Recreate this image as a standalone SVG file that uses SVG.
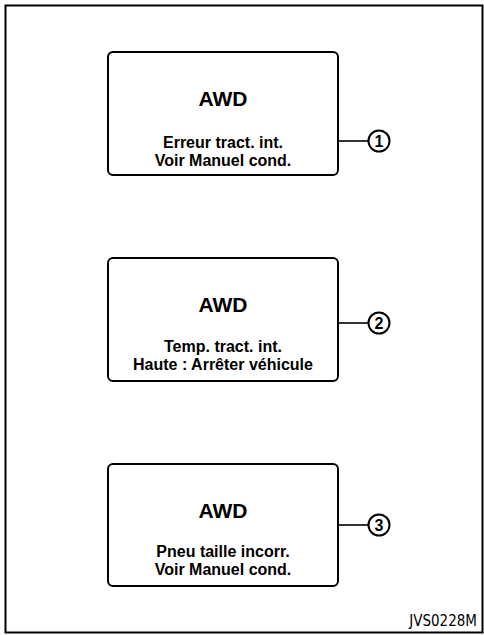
<svg xmlns="http://www.w3.org/2000/svg" width="484" height="635" viewBox="0 0 484 635">
<style>
.box{fill:#fff;stroke:#000;stroke-width:2}
.t{font-family:"Liberation Sans",Arial,sans-serif;text-anchor:middle;fill:#000}
.h{font-size:21px;font-weight:bold}
.m{font-size:16px;font-weight:bold}
.c{fill:#fff;stroke:#000;stroke-width:2}
.n{font-family:"Liberation Sans",Arial,sans-serif;font-size:16px;font-weight:bold;text-anchor:middle}
.ln{stroke:#000;stroke-width:1.6;fill:none}
</style>
<rect width="484" height="635" fill="#fff"/>
<rect x="5.5" y="5.5" width="477" height="627" fill="none" stroke="#000" stroke-width="2"/>
<g id="connectors">
<line class="ln" x1="338" y1="141" x2="369" y2="141"/>
<line class="ln" x1="338" y1="323" x2="369" y2="323"/>
<line class="ln" x1="338" y1="525" x2="369" y2="525"/>
</g>
<g id="node1">
<rect class="box" x="108" y="52" width="230" height="123" rx="5"/>
<text class="t h" x="223" y="106">AWD</text>
<text class="t m" x="223" y="148">Erreur tract. int.</text>
<text class="t m" x="223" y="166">Voir Manuel cond.</text>
</g>
<g id="node2">
<rect class="box" x="108" y="258" width="230" height="123" rx="5"/>
<text class="t h" x="223" y="312">AWD</text>
<text class="t m" x="223" y="352">Temp. tract. int.</text>
<text class="t m" x="223" y="370">Haute : Arrêter véhicule</text>
</g>
<g id="node3">
<rect class="box" x="108" y="464" width="230" height="122" rx="5"/>
<text class="t h" x="223" y="518">AWD</text>
<text class="t m" x="223" y="557">Pneu taille incorr.</text>
<text class="t m" x="223" y="575">Voir Manuel cond.</text>
</g>
<g id="label1"><circle class="c" cx="379" cy="141" r="10.5"/><text class="n" x="379" y="147">1</text></g>
<g id="label2"><circle class="c" cx="379" cy="323" r="10.5"/><text class="n" x="379" y="329">2</text></g>
<g id="label3"><circle class="c" cx="379" cy="525" r="10.5"/><text class="n" x="379" y="531">3</text></g>
<text x="477" y="626" font-family="DejaVu Sans Condensed,DejaVu Sans,sans-serif" font-size="15" text-anchor="end" fill="#000">JVS0228M</text>
</svg>
